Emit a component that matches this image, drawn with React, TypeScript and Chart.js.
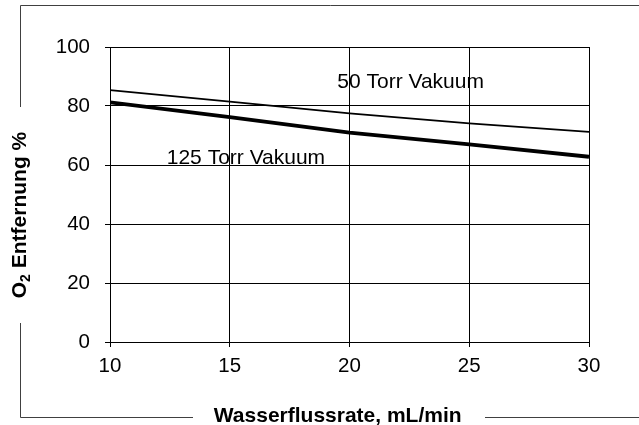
import { useEffect, useRef } from "react";
import { Chart, registerables } from "chart.js";

Chart.register(...registerables);

// ---- data ----
const flowRates = [10, 15, 20, 25, 30];
const removal50Torr = [85.4, 81.5, 77.5, 74.1, 71.2];
const removal125Torr = [81.2, 76.2, 71.0, 67.0, 62.8];
const xTickValues = [10, 15, 20, 25, 30];
const yTickValues = [0, 20, 40, 60, 80, 100];
const seriesNames = ["50 Torr Vakuum", "125 Torr Vakuum"];
const seriesLabelX = [19.49, 12.37];
const seriesLabelY = [86.0, 60.3];
const xTitle = "Wasserflussrate, mL/min";
const yTitleParts = ["O", "2", " Entfernung %"];

const FONT = "'Liberation Sans', Arial, Helvetica, sans-serif";

const decorPlugin = {
  id: "decor",
  afterDraw(chart: any) {
    const ctx = chart.ctx as CanvasRenderingContext2D;
    const xs = chart.scales.x;
    const ys = chart.scales.y;
    ctx.save();

    // outer frame with gaps for axis titles
    ctx.strokeStyle = "#404040";
    ctx.lineWidth = 1;
    ctx.beginPath();
    ctx.moveTo(20.5, 107);
    ctx.lineTo(20.5, 5.5);
    ctx.lineTo(640, 5.5);
    ctx.moveTo(20.5, 323);
    ctx.lineTo(20.5, 417.5);
    ctx.lineTo(193, 417.5);
    ctx.moveTo(485, 417.5);
    ctx.lineTo(640, 417.5);
    ctx.stroke();

    ctx.fillStyle = "#000";

    // x title
    ctx.font = `bold 21px ${FONT}`;
    ctx.textAlign = "center";
    ctx.textBaseline = "alphabetic";
    ctx.fillText(xTitle, 337.7, 422.3);

    // y title (rotated, with subscript)
    ctx.save();
    ctx.translate(25.5, 215);
    ctx.rotate(-Math.PI / 2);
    ctx.textAlign = "left";
    const big = `bold 21px ${FONT}`;
    const small = `bold 14px ${FONT}`;
    ctx.font = big;
    const w0 = ctx.measureText(yTitleParts[0]).width;
    const w2 = ctx.measureText(yTitleParts[2]).width;
    ctx.font = small;
    const w1 = ctx.measureText(yTitleParts[1]).width;
    let px = -(w0 + w1 + w2) / 2;
    ctx.font = big;
    ctx.fillText(yTitleParts[0], px, 0);
    px += w0;
    ctx.font = small;
    ctx.fillText(yTitleParts[1], px, 4);
    px += w1;
    ctx.font = big;
    ctx.fillText(yTitleParts[2], px, 0);
    ctx.restore();

    // series labels
    ctx.font = `21px ${FONT}`;
    ctx.textAlign = "left";
    ctx.textBaseline = "alphabetic";
    seriesNames.forEach((name, i) => {
      ctx.fillText(
        name,
        xs.getPixelForValue(seriesLabelX[i]),
        ys.getPixelForValue(seriesLabelY[i])
      );
    });

    ctx.restore();
  },
};

export default function App() {
  const ref = useRef<HTMLCanvasElement | null>(null);

  useEffect(() => {
    document.body.style.margin = "0";
    const canvas = ref.current!;
    const chart = new Chart(canvas, {
      type: "line",
      data: {
        datasets: [
          {
            label: seriesNames[0],
            data: flowRates.map((x, i) => ({ x, y: removal50Torr[i] })),
            borderColor: "#000",
            borderWidth: 1.8,
            pointRadius: 0,
            tension: 0,
          },
          {
            label: seriesNames[1],
            data: flowRates.map((x, i) => ({ x, y: removal125Torr[i] })),
            borderColor: "#000",
            borderWidth: 3.8,
            pointRadius: 0,
            tension: 0,
          },
        ],
      },
      options: {
        animation: false,
        responsive: false,
        devicePixelRatio: 1,
        layout: { padding: { left: 0, top: 47, right: 50, bottom: 0 } },
        plugins: {
          legend: { display: false },
          tooltip: { enabled: false },
        },
        scales: {
          x: {
            type: "linear",
            min: 10,
            max: 30,
            afterBuildTicks: (scale: any) => {
              scale.ticks = xTickValues.map((v) => ({ value: v }));
            },
            afterFit: (scale: any) => {
              scale.height = 83;
            },
            grid: {
              color: "#000",
              lineWidth: 1,
              drawTicks: true,
              tickLength: 5,
              tickColor: "#000",
            },
            border: { display: true, color: "#000", width: 1 },
            ticks: {
              color: "#000",
              font: { family: FONT, size: 20.5 },
              padding: 7,
              maxRotation: 0,
              autoSkip: false,
            },
          },
          y: {
            type: "linear",
            min: 0,
            max: 100,
            afterBuildTicks: (scale: any) => {
              scale.ticks = yTickValues.map((v) => ({ value: v }));
            },
            afterFit: (scale: any) => {
              scale.width = 110;
            },
            grid: {
              color: "#000",
              lineWidth: 1,
              drawTicks: true,
              tickLength: 5,
              tickColor: "#000",
            },
            border: { display: true, color: "#000", width: 1 },
            ticks: {
              color: "#000",
              font: { family: FONT, size: 20.5 },
              padding: 15,
              autoSkip: false,
            },
          },
        },
      },
      plugins: [decorPlugin],
    });
    return () => chart.destroy();
  }, []);

  return (
    <canvas
      ref={ref}
      width={639}
      height={425}
      style={{ display: "block", width: 639, height: 425 }}
    />
  );
}
